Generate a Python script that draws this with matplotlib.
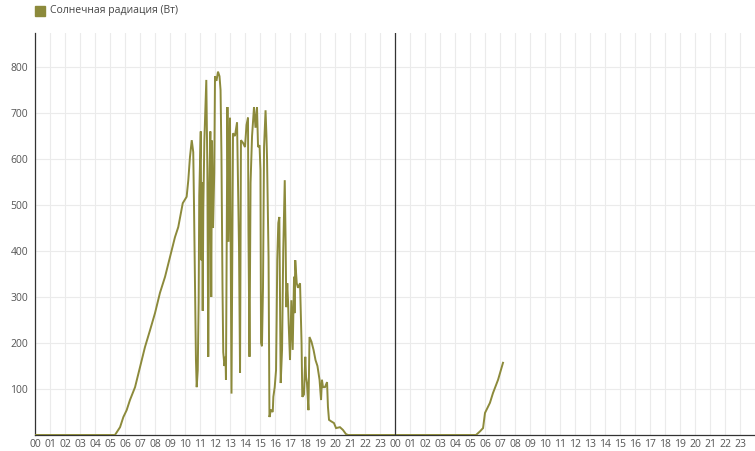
import matplotlib
matplotlib.use("Agg")
import matplotlib.pyplot as plt

# hours since first midnight, solar radiation (W)
hours = [0.0, 5.33, 5.67, 5.89, 6.11, 6.33, 6.67, 7.0, 7.33, 7.67, 8.0, 8.33, 8.67,
         9.0, 9.33, 9.55, 9.85, 10.11, 10.22, 10.33, 10.45, 10.55, 10.6, 10.67, 10.73,
         10.78, 10.85, 10.91, 10.95, 11.05, 11.09, 11.13, 11.18, 11.22, 11.29, 11.35,
         11.42, 11.49, 11.55, 11.62, 11.69, 11.75, 11.8, 11.87, 11.95, 12.0, 12.1, 12.2,
         12.3, 12.37, 12.43, 12.5, 12.55, 12.63, 12.7, 12.73, 12.83, 12.9, 13.0, 13.1,
         13.2, 13.33, 13.47, 13.6, 13.67, 13.73, 13.87, 14.0, 14.1, 14.2, 14.23, 14.3,
         14.37, 14.47, 14.6, 14.7, 14.8, 14.87, 14.97, 15.03, 15.07, 15.13, 15.2, 15.27,
         15.37, 15.43, 15.47, 15.57, 15.63, 15.73, 15.85, 15.89, 15.98, 16.07, 16.11,
         16.15, 16.22, 16.29, 16.33, 16.38, 16.47, 16.55, 16.65, 16.71, 16.75, 16.82,
         16.87, 16.91, 17.0, 17.09, 17.18, 17.27, 17.3, 17.35, 17.45, 17.53, 17.67,
         17.77, 17.82, 17.93, 18.02, 18.07, 18.13, 18.23, 18.3,
         18.43, 18.57, 18.7, 18.83, 18.97, 19.07, 19.13, 19.2, 19.33, 19.47, 19.53, 19.6,
         19.73, 19.93, 20.07, 20.33, 20.53, 20.73, 20.87, 29.4, 29.67, 29.87, 30.0,
         30.33, 30.53, 30.87, 31.2]
radiation = [0, 0, 17, 39, 54, 76, 104, 148, 191, 228, 265, 309, 344,
             387, 430, 452, 504, 518, 554, 604, 641, 615, 500, 320, 163,
             104, 141, 290, 520, 660, 380, 550, 270, 490, 640, 700,
             772, 580, 170, 540, 660, 300, 640, 450, 570, 780, 770, 790,
             780, 750, 610, 320, 180, 150, 170, 120, 713, 420, 690, 90,
             656, 650, 680, 409, 135, 641, 635, 626, 674, 690, 445, 170,
             548, 650, 713, 668, 713, 626, 630, 576, 200, 193, 320, 626,
             706, 650, 600, 387, 39, 55, 50, 83, 104, 141, 250,
             380, 461, 474, 300, 113, 185, 402, 554, 417, 278, 330,
             290, 243, 163, 293, 185, 344, 265, 380, 330, 320, 330,
             200, 83, 88, 170, 126, 113, 54, 213,
             203, 185, 163, 150, 120, 76, 120, 104, 104, 115, 61, 33,
             30, 26, 15, 17, 11, 2, 0, 0, 8, 15, 48,
             70, 91, 120, 157]
tick_hours = list(range(48))
tick_labels = ["%02d" % (h % 24) for h in tick_hours]
y_ticks = [100, 200, 300, 400, 500, 600, 700, 800]

olive = "#8c8a3b"
plt.rcParams.update({"font.family": ["Open Sans", "DejaVu Sans"], "font.size": 7.5})
fig = plt.figure(figsize=(7.55, 4.51), dpi=100)
ax = fig.add_axes([35 / 755, 16 / 451, 720 / 755, 402 / 451])

ax.plot(hours, radiation, color=olive, lw=1.4, solid_joinstyle="miter", zorder=3)
ax.axvline(24, color="#333333", lw=0.9, zorder=4)

ax.set_xlim(0, 48)
ax.set_ylim(0, 874)
ax.set_xticks(tick_hours)
ax.set_xticklabels(tick_labels)
ax.set_yticks(y_ticks)
ax.tick_params(length=0, colors="#555555", labelsize=7.5)
ax.tick_params(axis="y", pad=5)
ax.tick_params(axis="x", pad=3)
ax.grid(color="#ebebeb", lw=0.8)
ax.set_axisbelow(True)
for sp in ["top", "right"]:
    ax.spines[sp].set_visible(False)
for sp in ["left", "bottom"]:
    ax.spines[sp].set_color("#333333")
    ax.spines[sp].set_linewidth(0.9)

# legend swatch + label in the top-left corner
fig.patches.append(plt.Rectangle((35 / 755, 1 - 16 / 451), 10 / 755, 10 / 451,
                                 transform=fig.transFigure, color=olive))
fig.text(50 / 755, 1 - 11 / 451, "Солнечная радиация (Вт)", va="center",
         fontsize=7.5, color="#444444")

plt.savefig("out.png", dpi=100)
